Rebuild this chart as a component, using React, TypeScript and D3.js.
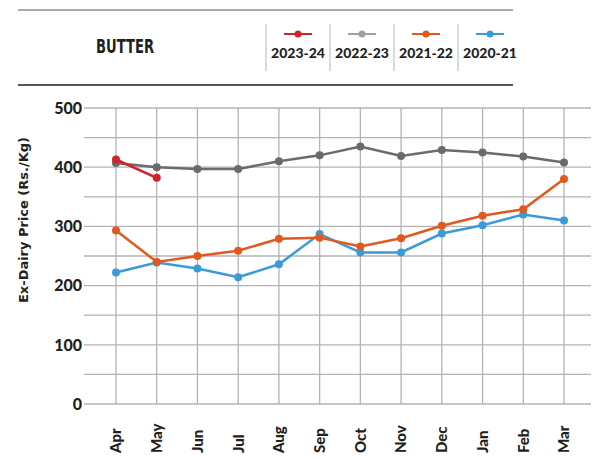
import React, { useEffect, useRef } from 'react';
import * as d3 from 'd3';

// months on the x axis
const months = ['Apr', 'May', 'Jun', 'Jul', 'Aug', 'Sep', 'Oct', 'Nov', 'Dec', 'Jan', 'Feb', 'Mar'];
const yTicks = [0, 100, 200, 300, 400, 500];

// series values (Rs./Kg)
const fy2324 = [413, 382];
const fy2223 = [407, 400, 397, 397, 410, 420, 435, 419, 429, 425, 418, 408];
const fy2122 = [293, 240, 250, 259, 279, 281, 266, 280, 301, 318, 329, 380];
const fy2021 = [222, 239, 229, 214, 236, 287, 256, 256, 288, 302, 320, 310];

const seriesNames = ['2023-24', '2022-23', '2021-22', '2020-21'];
const seriesColors = ['#d2232a', '#6a6b6e', '#e05a1f', '#3a9bd8'];
const legendMarkColors = ['#d2232a', '#a0a0a2', '#e05a1f', '#3a9bd8'];

const font = "'Lato', 'DejaVu Sans', sans-serif";
const heavy = "'DejaVu Sans Condensed', 'DejaVu Sans', sans-serif";

export default function App() {
    const ref = useRef<SVGSVGElement>(null);

    useEffect(function () {
        if (!ref.current) return;
        const svg = d3.select(ref.current);
        svg.selectAll('*').remove();

        // header
        const head = svg.append('g');
        head.append('line').attr('x1', 18).attr('x2', 513).attr('y1', 10).attr('y2', 10)
            .attr('stroke', '#555').attr('stroke-width', 1);
        head.append('line').attr('x1', 18).attr('x2', 513).attr('y1', 85).attr('y2', 85)
            .attr('stroke', '#555').attr('stroke-width', 2);
        head.append('text')
            .attr('x', 96).attr('y', 53)
            .attr('textLength', 58).attr('lengthAdjust', 'spacingAndGlyphs')
            .style('font-family', heavy)
            .style('font-weight', 'bold').style('font-size', '19px')
            .attr('fill', '#231f20')
            .text('BUTTER');

        // legend
        const legX = d3.scaleBand<number>().domain(d3.range(4)).range([266, 522]);
        const leg = head.append('g').selectAll('g').data(seriesNames).join('g')
            .attr('transform', (d, i) => 'translate(' + legX(i) + ',0)');
        leg.append('line').attr('x1', 0).attr('x2', 0).attr('y1', 24).attr('y2', 71)
            .attr('stroke', '#b5b5b5').attr('stroke-width', 1);
        leg.append('line').attr('x1', 18).attr('x2', 46).attr('y1', 34).attr('y2', 34)
            .attr('stroke', (d, i) => legendMarkColors[i]).attr('stroke-width', 2);
        leg.append('circle').attr('cx', 32).attr('cy', 34).attr('r', 3.5)
            .attr('fill', (d, i) => legendMarkColors[i]);
        leg.append('text')
            .attr('x', 32).attr('y', 58).attr('text-anchor', 'middle')
            .style('font-family', font).style('font-weight', 900).style('font-size', '14px')
            .attr('fill', '#231f20')
            .text(d => d);

        // scales
        const x = d3.scalePoint<string>().domain(months).range([116, 564]);
        const y = d3.scaleLinear().domain([0, 500]).range([404, 108]);

        // grid
        const grid = svg.append('g').attr('stroke', '#b3b3b3').attr('stroke-width', 1.3);
        grid.selectAll('line.h').data(d3.range(0, 501, 50)).join('line')
            .attr('class', 'h')
            .attr('x1', 84).attr('x2', 591)
            .attr('y1', d => y(d)).attr('y2', d => y(d));
        grid.selectAll('line.v').data(months).join('line')
            .attr('class', 'v')
            .attr('x1', d => x(d)!).attr('x2', d => x(d)!)
            .attr('y1', y(500)).attr('y2', y(0));

        // y axis labels
        svg.append('g').selectAll('text').data(yTicks).join('text')
            .attr('x', 82).attr('y', d => y(d)).attr('dy', '0.36em')
            .attr('text-anchor', 'end')
            .style('font-family', font).style('font-weight', 900).style('font-size', '16px')
            .attr('fill', '#231f20')
            .text(d => d);

        // x axis labels, bottom aligned
        svg.append('g').selectAll('text').data(months).join('text')
            .attr('transform', d => 'translate(' + x(d) + ',453) rotate(-90)')
            .attr('dy', '0.36em')
            .attr('text-anchor', 'start')
            .style('font-family', font).style('font-weight', 900).style('font-size', '15px')
            .attr('fill', '#231f20')
            .text(d => d);

        // y title
        svg.append('text')
            .attr('transform', 'translate(23,220) rotate(-90)')
            .attr('text-anchor', 'middle').attr('dy', '0.36em')
            .attr('textLength', 166).attr('lengthAdjust', 'spacingAndGlyphs')
            .style('font-family', heavy).style('font-weight', 'bold').style('font-size', '13px')
            .attr('fill', '#231f20')
            .text('Ex-Dairy Price (Rs./Kg)');

        // lines, drawn oldest first
        const all = [fy2324, fy2223, fy2122, fy2021];
        const line = d3.line<number>().x((d, i) => x(months[i])!).y(d => y(d));
        const order = [3, 2, 1, 0];
        order.forEach(function (s) {
            const g = svg.append('g');
            g.append('path').datum(all[s])
                .attr('d', line)
                .attr('fill', 'none')
                .attr('stroke', seriesColors[s])
                .attr('stroke-width', 2.5);
            g.selectAll('circle').data(all[s]).join('circle')
                .attr('cx', (d, i) => x(months[i])!)
                .attr('cy', d => y(d))
                .attr('r', 4)
                .attr('fill', seriesColors[s]);
        });
    }, []);

    return (
        <svg ref={ref} width={605} height={459}
            style={{ position: 'absolute', left: 0, top: 0, background: '#fff' }}></svg>
    );
}
